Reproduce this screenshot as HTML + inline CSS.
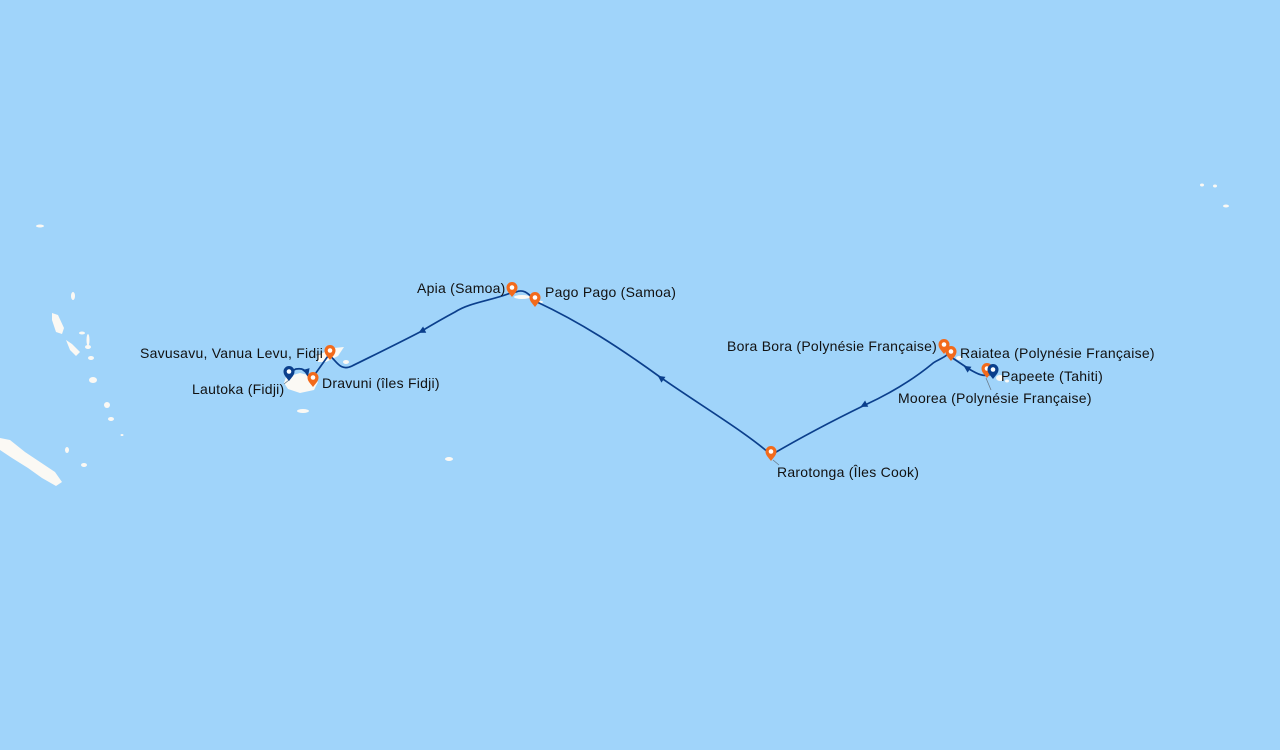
<!DOCTYPE html>
<html><head><meta charset="utf-8"><style>
html,body{margin:0;padding:0;background:#a0d4fa;}
svg{display:block}
text{font-family:"Liberation Sans",sans-serif;font-size:14px;fill:#111;letter-spacing:0.25px;}
</style></head><body>
<svg width="1280" height="750" viewBox="0 0 1280 750" xmlns="http://www.w3.org/2000/svg">
<defs>
<g id="pin"><path d="M0,0 C-3,-4 -5.5,-6 -5.5,-9.5 A5.5,5.5 0 1 1 5.5,-9.5 C5.5,-6 3,-4 0,0Z"/><circle cx="0" cy="-9.5" r="2.3" fill="#fff"/></g>
<path id="arr" d="M4,0 L-3,-3.5 L-3,3.5Z"/>
</defs>
<rect width="1280" height="750" fill="#a0d4fa"/>
<g fill="#fbf9f4">
<path d="M0,438 L10,440 L25,452 L40,462 L55,472 L62,482 L56,486 L42,478 L28,468 L12,458 L0,450Z"/>
<path d="M52,313 L58,315 L64,328 L62,334 L56,332 L52,320Z"/>
<path d="M66,340 L72,344 L80,352 L76,356 L70,350Z"/>
<ellipse cx="82" cy="333" rx="3" ry="1.5"/><ellipse cx="88" cy="340" rx="1.5" ry="6"/>
<ellipse cx="88" cy="347" rx="3" ry="2"/><ellipse cx="91" cy="358" rx="3" ry="2"/>
<ellipse cx="93" cy="380" rx="4" ry="3"/><ellipse cx="107" cy="405" rx="3" ry="3"/>
<ellipse cx="111" cy="419" rx="3" ry="2"/><ellipse cx="122" cy="435" rx="1.5" ry="1"/>
<ellipse cx="67" cy="450" rx="2" ry="3"/><ellipse cx="84" cy="465" rx="3" ry="2"/>
<ellipse cx="40" cy="226" rx="4" ry="1.5"/><ellipse cx="73" cy="296" rx="2" ry="4"/>
<path d="M286,377 L300,373 L312,376 L318,382 L314,390 L300,393 L288,389 L284,383Z"/>
<path d="M318,355 L334,348 L344,347 L338,356 L326,362 L318,362Z"/>
<ellipse cx="303" cy="411" rx="6" ry="2"/><ellipse cx="346" cy="362" rx="3" ry="2"/>
<ellipse cx="522" cy="297" rx="8" ry="2"/><ellipse cx="540" cy="302" rx="3" ry="1.3"/>
<ellipse cx="449" cy="459" rx="4" ry="2"/>
<ellipse cx="1000" cy="378" rx="4" ry="3"/><ellipse cx="1007" cy="381" rx="2" ry="1.5"/>
<ellipse cx="959" cy="358" rx="3" ry="2"/><ellipse cx="1202" cy="185" rx="2" ry="1.5"/>
<ellipse cx="1215" cy="186" rx="2" ry="1.5"/><ellipse cx="1226" cy="206" rx="3" ry="1.5"/>
</g>
<g fill="none" stroke="#0b3f8c" stroke-width="1.7">
<path d="M991,374 C984,378 976,373 969,369 L951,357"/>
<path d="M945,350 C955,355 935,360 932,364 C915,378 893,392 865,405 C830,422 800,438 771,455"/>
<path d="M771,455 C750,435 700,405 660,377 C620,348 580,322 537,302"/>
<path d="M535,300 C530,296 525,288 516,292 L513,292 C495,300 470,302 455,312 C440,320 430,326 420,332 C395,345 368,358 352,366 C340,372 336,360 330,356"/>
<path d="M328,356 L313,377"/>
<path d="M311,378 C305,376 308,367 296,369 L290,372"/>
</g>
<g fill="#0b3f8c">
<use href="#arr" transform="translate(967,368) rotate(213)"/>
<use href="#arr" transform="translate(864,405) rotate(153)"/>
<use href="#arr" transform="translate(661,378) rotate(215)"/>
<use href="#arr" transform="translate(422,331) rotate(153)"/>
<use href="#arr" transform="translate(306,371) rotate(190)"/>
</g>
<g stroke="#6a7c8c" stroke-width="0.8" fill="none">
<path d="M321,354 L316,355"/><path d="M284,384 L289,380"/>
<path d="M773,460 L779,465"/><path d="M986,378 L991,390"/>
</g>
<g fill="#f26a1b">
<use href="#pin" x="330" y="360"/>
<use href="#pin" x="313" y="387"/>
<use href="#pin" x="512" y="297"/>
<use href="#pin" x="535" y="307"/>
<use href="#pin" x="771" y="461"/>
<use href="#pin" x="944" y="354"/>
<use href="#pin" x="951" y="361"/>
<use href="#pin" x="987" y="378"/>
</g>
<g fill="#0b3f8c">
<use href="#pin" x="289" y="381"/>
<use href="#pin" x="993" y="379"/>
</g>
<text x="140" y="358">Savusavu, Vanua Levu, Fidji</text>
<text x="192" y="394">Lautoka (Fidji)</text>
<text x="322" y="388">Dravuni (îles Fidji)</text>
<text x="417" y="293">Apia (Samoa)</text>
<text x="545" y="297">Pago Pago (Samoa)</text>
<text x="777" y="477">Rarotonga (Îles Cook)</text>
<text x="727" y="351">Bora Bora (Polynésie Française)</text>
<text x="960" y="358">Raiatea (Polynésie Française)</text>
<text x="1001" y="381">Papeete (Tahiti)</text>
<text x="898" y="403">Moorea (Polynésie Française)</text>
</svg>
</body></html>
